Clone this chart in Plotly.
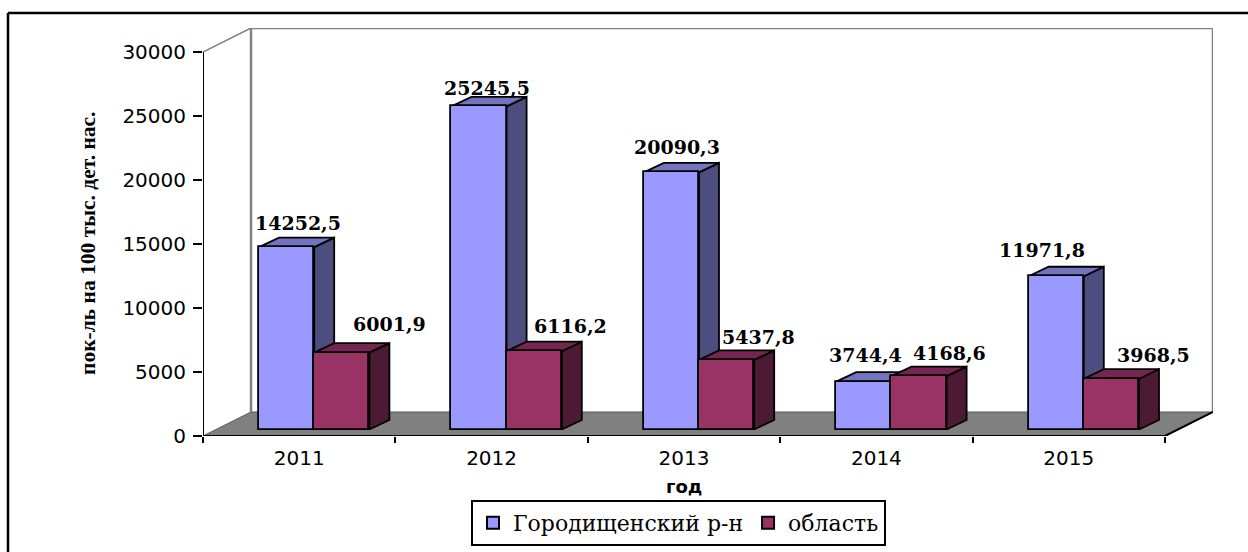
import plotly.graph_objects as go

# ---- data ----
years = ["2011", "2012", "2013", "2014", "2015"]
gorodishche = [14252.5, 25245.5, 20090.3, 3744.4, 11971.8]
oblast = [6001.9, 6116.2, 5437.8, 4168.6, 3968.5]
series_names = ["Городищенский р-н", "область"]
y_ticks = [0, 5000, 10000, 15000, 20000, 25000, 30000]
y_title = "пок-ль на 100 тыс. дет. нас."
x_title = "год"

# ---- geometry (pixels -> axis units) ----
W, H = 1248, 552
L, R, T, B = 203, 1213, 28, 436          # plot area in page pixels
PX_CAT = (1165 - 203) / 5                # pixels per category
PX_VAL = 384 / 30000                     # pixels per value unit
XMAX = (R - L) / PX_CAT
YMAX = (B - T) / PX_VAL
WALL_DX, WALL_DY = 48 / PX_CAT, 24 / PX_VAL
BAR_W = 55.2 / PX_CAT
BAR_START = 56.0 / PX_CAT
BASE = 6.5 / PX_VAL
DEPTH_DX, DEPTH_DY = 20 / PX_CAT, 9.5 / PX_VAL


def px_x(px):
    return (px - L) / (R - L)


def px_y(px):
    return (B - px) / (B - T)


def box_faces(centers, values):
    tx, ty, sx, sy = [], [], [], []
    for c, v in zip(centers, values):
        x0, x1 = c - BAR_W / 2, c + BAR_W / 2
        top = BASE + v
        tx += [x0, x1, x1 + DEPTH_DX, x0 + DEPTH_DX, x0, None]
        ty += [top, top, top + DEPTH_DY, top + DEPTH_DY, top, None]
        sx += [x1, x1 + DEPTH_DX, x1 + DEPTH_DX, x1, x1, None]
        sy += [BASE, BASE + DEPTH_DY, top + DEPTH_DY, top, BASE, None]
    return tx, ty, sx, sy


fig = go.Figure()
GRAY = "#808080"

# floor and walls
fig.add_trace(go.Scatter(x=[0, 5, 5 + WALL_DX, WALL_DX, 0], y=[0, 0, WALL_DY, WALL_DY, 0],
                         mode="lines", fill="toself", fillcolor=GRAY,
                         line=dict(color="#555555", width=1), showlegend=False,
                         hoverinfo="skip", cliponaxis=False, zorder=0))
fig.add_trace(go.Scatter(x=[WALL_DX, WALL_DX, XMAX, XMAX], y=[WALL_DY, YMAX, YMAX, WALL_DY],
                         mode="lines", line=dict(color=GRAY, width=2.5), showlegend=False,
                         hoverinfo="skip", cliponaxis=False, zorder=0))
fig.add_trace(go.Scatter(x=[0, WALL_DX], y=[30000, YMAX], mode="lines",
                         line=dict(color=GRAY, width=1.5), showlegend=False,
                         hoverinfo="skip", cliponaxis=False, zorder=0))
# axis lines
fig.add_trace(go.Scatter(x=[0, 0, 5, 5 + WALL_DX], y=[30000, 0, 0, WALL_DY], mode="lines",
                         line=dict(color="black", width=2), showlegend=False,
                         hoverinfo="skip", cliponaxis=False, zorder=1))

styles = [("#9999FF", "#7373BF", "#4D4D80"), ("#993366", "#732650", "#4D1A33")]
centers = []
for k, (vals, name, (front, top, side)) in enumerate(zip([gorodishche, oblast], series_names, styles)):
    cs = [i + BAR_START + BAR_W * (k + 0.5) for i in range(len(years))]
    centers.append(cs)
    tx, ty, sx, sy = box_faces(cs, vals)
    z = 2 + 2 * k
    for px, py, col in ((sx, sy, side), (tx, ty, top)):
        fig.add_trace(go.Scatter(x=px, y=py, mode="lines", fill="toself", fillcolor=col,
                                 line=dict(color="black", width=1.8), showlegend=False,
                                 hoverinfo="skip", cliponaxis=False, zorder=z))
    fig.add_trace(go.Bar(x=cs, y=vals, base=BASE, width=BAR_W, name=name,
                         marker=dict(color=front, line=dict(color="black", width=1.8)),
                         cliponaxis=False, zorder=z + 1))

# value labels: pixel nudges from the front-top centre of each bar
label_nudges = [
    [(11.5, 24), (8.1, 18.4), (5.7, 25.3), (1.8, 26.6), (-14.2, 26.3)],
    [(47.3, 28.7), (35.8, 25.2), (31.5, 22.9), (30.8, 23), (41.8, 23.7)],
]
annotations = []
for vals, cs, nudges in zip([gorodishche, oblast], centers, label_nudges):
    for v, c, (dx, dy) in zip(vals, cs, nudges):
        annotations.append(dict(x=c, y=BASE + v, xref="x", yref="y", xshift=dx, yshift=dy,
                                text=f"{v:.1f}".replace(".", ","), showarrow=False,
                                xanchor="center", yanchor="middle",
                                font=dict(family="DejaVu Serif", size=19, color="black", weight="bold")))
annotations.append(dict(x=2.5, y=px_y(486), xref="x", yref="paper", text=f"<b>{x_title}</b>",
                        showarrow=False, xanchor="center", yanchor="middle",
                        font=dict(family="DejaVu Sans", size=18, color="black")))
annotations.append(dict(x=px_x(88), y=px_y(244), xref="paper", yref="paper", text=f"<b>{y_title}</b>",
                        textangle=-90, showarrow=False, xanchor="center", yanchor="middle",
                        font=dict(family="Liberation Serif", size=21.5, color="black")))

fig.update_layout(
    width=W, height=H, autosize=False,
    margin=dict(l=L, r=W - R, t=T, b=H - B, pad=0),
    paper_bgcolor="white", plot_bgcolor="white",
    barmode="overlay", bargap=0,
    showlegend=True,
    legend=dict(orientation="h", xref="container", yref="container",
                x=471 / W, y=(H - 500) / H, xanchor="left", yanchor="top",
                bordercolor="black", borderwidth=2, bgcolor="white",
                font=dict(family="DejaVu Serif", size=22, color="black"),
                itemsizing="constant", traceorder="normal"),
    xaxis=dict(range=[0, XMAX], tickmode="array",
               tickvals=[i + 0.5 for i in range(len(years))], ticktext=years,
               ticks="", showgrid=False, zeroline=False, showline=False,
               ticklabelstandoff=8,
               tickfont=dict(family="DejaVu Sans", size=20, color="black"),
               minor=dict(tickmode="array", tickvals=list(range(len(years) + 1)),
                          ticks="outside", ticklen=6, tickwidth=2, tickcolor="black", showgrid=False)),
    yaxis=dict(range=[0, YMAX], tickmode="array", tickvals=y_ticks,
               ticktext=[str(t) for t in y_ticks], ticks="outside", ticklen=9, tickwidth=2,
               tickcolor="black", showgrid=False, zeroline=False, showline=False,
               ticklabelstandoff=3,
               tickfont=dict(family="DejaVu Sans", size=20, color="black")),
    annotations=annotations,
    shapes=[
        dict(type="line", xref="paper", yref="paper", x0=px_x(8), x1=px_x(1248), y0=px_y(13), y1=px_y(13),
             line=dict(color="black", width=2.5)),
        dict(type="line", xref="paper", yref="paper", x0=px_x(8), x1=px_x(8), y0=px_y(13), y1=px_y(552),
             line=dict(color="black", width=2.5)),
    ],
)

fig.write_html("out.html", config=dict(displayModeBar=False),
               post_script="document.body.style.margin='0';document.body.style.overflow='hidden';")
